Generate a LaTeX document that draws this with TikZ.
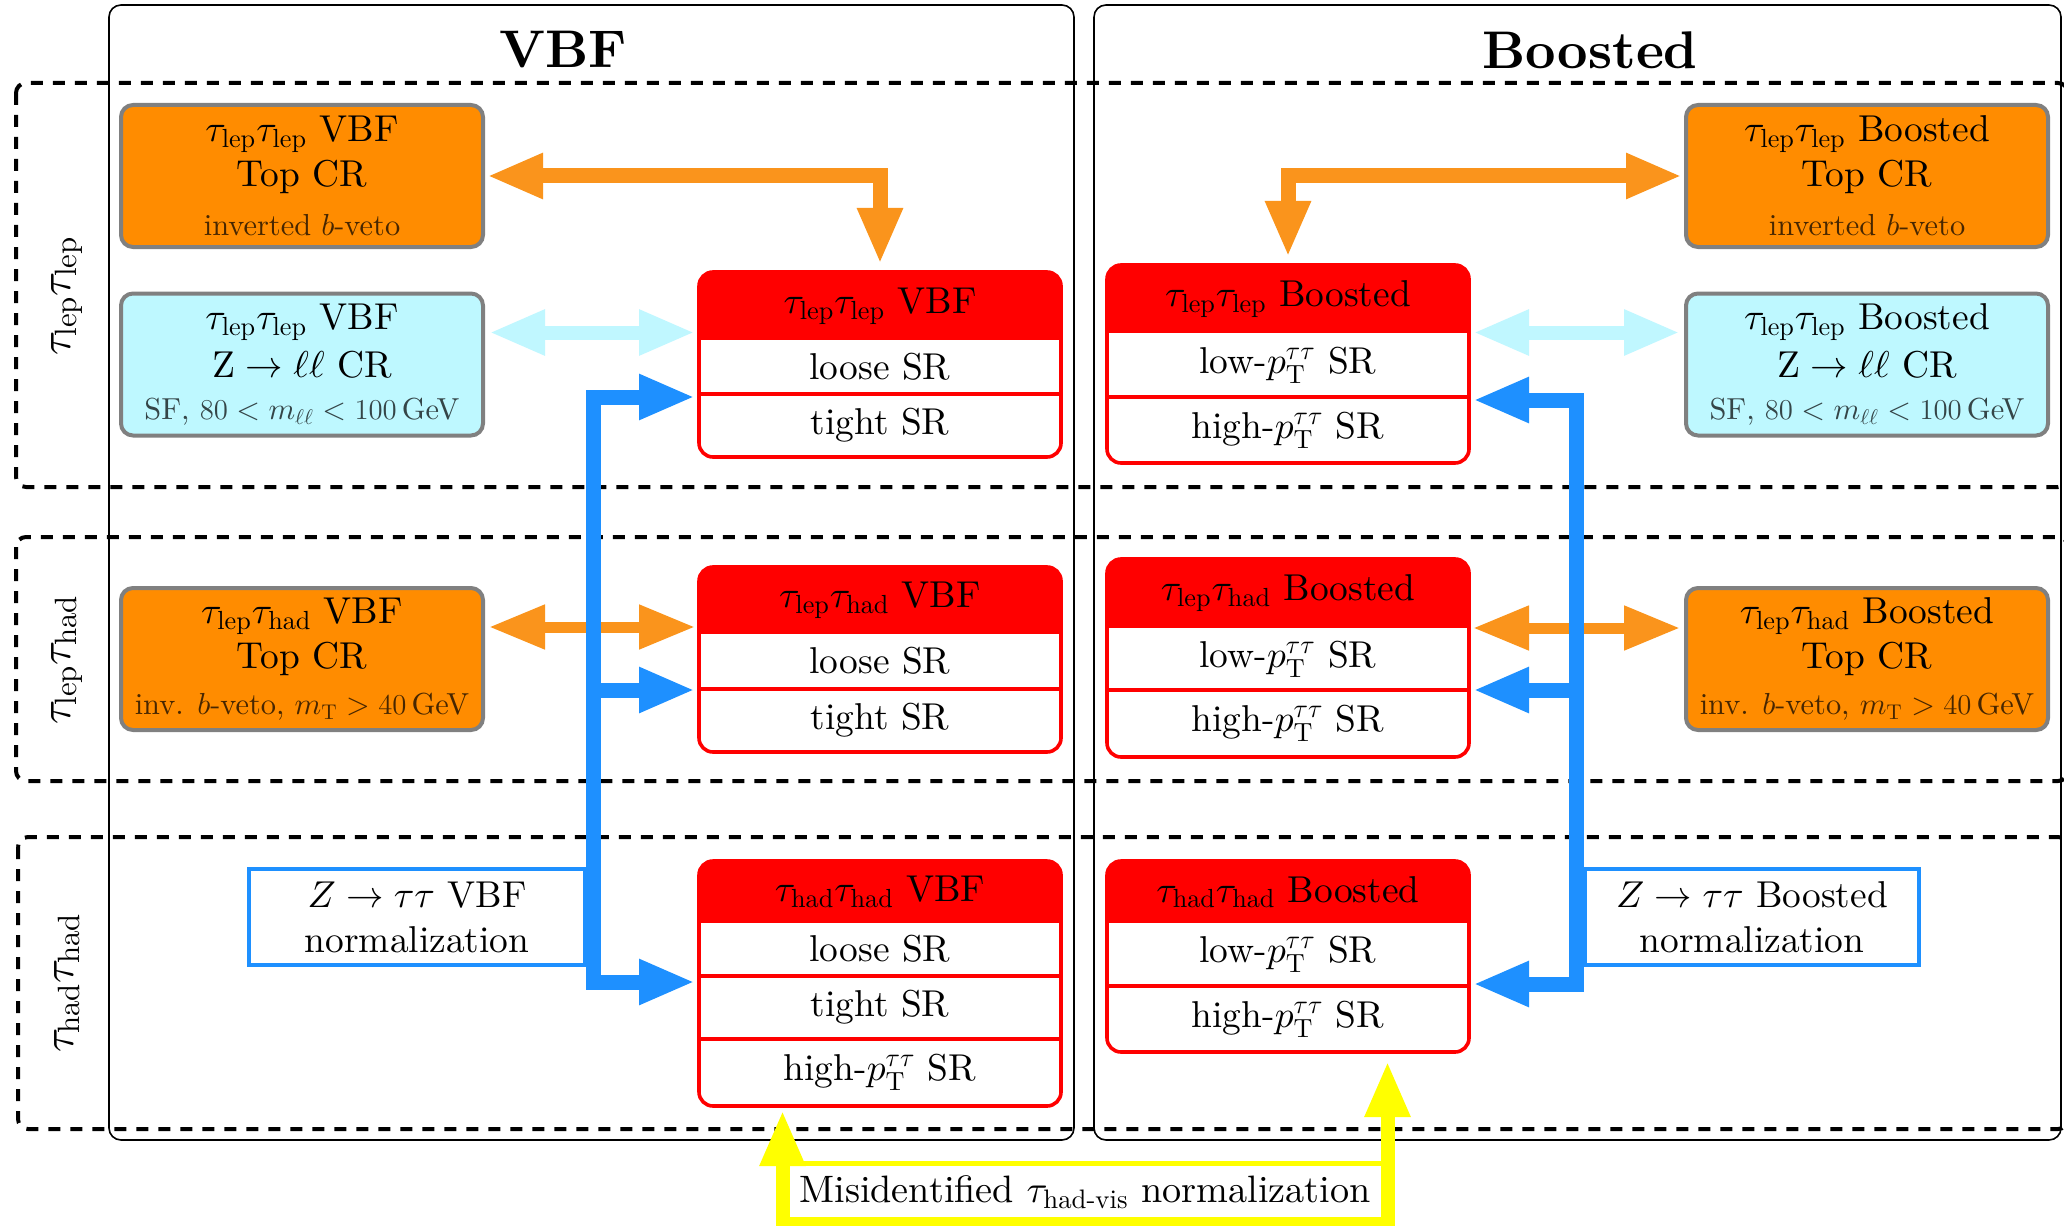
\documentclass[tikz,border=0pt]{standalone}
\usepackage{amsmath}
\usepackage{fontspec}
\setmainfont{lmroman10}[Extension=.otf, UprightFont=*-regular, BoldFont=*-bold, ItalicFont=*-italic, BoldItalicFont=*-bolditalic]
\DeclareFontShape{OML}{cmm}{m}{it}{<->cmmi10}{}
\DeclareFontShape{OMS}{cmsy}{m}{n}{<->cmsy10}{}
\usetikzlibrary{arrows.meta,calc}
\definecolor{crorange}{RGB}{255,140,0}
\definecolor{arrorange}{RGB}{250,148,28}
\definecolor{crcyan}{RGB}{190,248,255}
\definecolor{arrcyan}{RGB}{192,247,255}
\definecolor{nblue}{RGB}{30,144,255}
\definecolor{yel}{RGB}{255,255,0}
\definecolor{srred}{RGB}{255,0,0}
\definecolor{crgray}{RGB}{128,128,128}
\newcommand{\srbox}[5]{%
  \node[srnode, minimum height={(#4-#3)*0.5pt}] (#1) at (#2,#3) {};
  \begin{scope}
    \clip[rounded corners=7pt] (#1.north west) rectangle (#1.south east);
    \fill[white] (#1.north west) rectangle (#1.south east);
    \fill[srred] (#1.north west) rectangle (#1.east |- 0,#5);
  \end{scope}
}
\newcommand{\srclose}[1]{\draw[srframeline] (#1.north west) rectangle (#1.south east);}
\begin{document}
\begin{tikzpicture}[x=0.5pt,y=-0.5pt,
  panel/.style={draw=black, line width=0.8pt, rounded corners=6pt},
  rowbox/.style={draw=black, line width=2pt, dash pattern=on 6pt off 5pt, rounded corners=5pt},
  title/.style={font=\fontsize{26.5}{31}\selectfont\bfseries, inner sep=0pt},
  rowlabel/.style={rotate=90, font=\fontsize{22}{26}\selectfont, inner sep=0pt},
  crbox/.style={draw=crgray, line width=2pt, rounded corners=6pt, minimum width=181pt, minimum height=71pt, inner sep=0pt},
  topcr/.style={crbox, fill=crorange},
  zcr/.style={crbox, fill=crcyan},
  main/.style={font=\fontsize{18.7}{22}\selectfont, inner sep=0pt},
  small/.style={font=\fontsize{15.2}{18}\selectfont, text opacity=0.72, inner sep=0pt},
  srnode/.style={minimum width=181pt, inner sep=0pt, outer sep=0pt, anchor=north west, draw=none},
  srframeline/.style={draw=srred, line width=1.8pt, rounded corners=7pt},
  srline/.style={draw=srred, line width=1.8pt},
  normbox/.style={draw=nblue, line width=1.8pt, fill=white, align=center, font=\fontsize{18.7}{22.5}\selectfont, inner sep=0pt},
  misbox/.style={draw=yel, line width=2.5pt, fill=white, font=\fontsize{19.1}{22}\selectfont, minimum width=300pt, minimum height=29pt, inner sep=0pt},
  tri/.tip={Triangle[length=28pt,width=21pt]},
  barrow/.style={draw=nblue, line width=7.5pt, line join=miter, -tri},
  oarrowA/.style={draw=arrorange, line width=7.5pt, line join=miter, tri-tri},
  oarrowB/.style={draw=arrorange, line width=5.5pt, tri-tri},
  carrow/.style={draw=arrcyan, line width=7pt, tri-tri},
  yarrow/.style={draw=yel, line width=7pt, line join=miter, tri-tri}
]
\useasboundingbox (0,0) rectangle (2064,1225);
\fill[white] (0,0) rectangle (2064,1225);

% panels
\draw[panel] (109,5) rectangle (1074,1140);
\draw[panel] (1094,5) rectangle (2061,1140);
\node[title] (tV) at (563,50) {VBF};
\node[title] (tB) at (1590,50) {Boosted};

% channel rows
\draw[rowbox] (16,83) rectangle (2068,487);
\draw[rowbox] (16,537) rectangle (2068,781);
\draw[rowbox] (18,837) rectangle (2068,1129);
\node[rowlabel] (lab1) at (67,296) {$\tau_{\mathrm{lep}}\tau_{\mathrm{lep}}$};
\node[rowlabel] (lab2) at (67,660) {$\tau_{\mathrm{lep}}\tau_{\mathrm{had}}$};
\node[rowlabel] (lab3) at (67,983) {$\tau_{\mathrm{had}}\tau_{\mathrm{had}}$};

% control regions VBF
\node[topcr] (ocV1) at (302,176) {};
\node[main] (ocV1a) at (302,134) {$\tau_{\mathrm{lep}}\tau_{\mathrm{lep}}$ VBF};
\node[main] (ocV1b) at (302,177) {Top CR};
\node[small] (ocV1c) at (302,225) {inverted $b$-veto};

\node[zcr] (czV) at (302,364.5) {};
\node[main] (czVa) at (302,322) {$\tau_{\mathrm{lep}}\tau_{\mathrm{lep}}$ VBF};
\node[main] (czVb) at (302,365) {$\mathrm{Z}\rightarrow\ell\ell$ CR};
\node[small] (czVc) at (302,412) {SF, $80 < m_{\ell\ell} < 100\,$GeV};

\node[topcr] (ocV2) at (302,659) {};
\node[main] (ocV2a) at (302,616) {$\tau_{\mathrm{lep}}\tau_{\mathrm{had}}$ VBF};
\node[main] (ocV2b) at (302,659) {Top CR};
\node[small] (ocV2c) at (302,707) {inv. $b$-veto, $m_{\mathrm{T}} > 40\,$GeV};

% control regions Boosted
\node[topcr] (ocB1) at (1867,176) {};
\node[main] (ocB1a) at (1867,134) {$\tau_{\mathrm{lep}}\tau_{\mathrm{lep}}$ Boosted};
\node[main] (ocB1b) at (1867,177) {Top CR};
\node[small] (ocB1c) at (1867,225) {inverted $b$-veto};

\node[zcr] (czB) at (1867,364.5) {};
\node[main] (czBa) at (1867,322) {$\tau_{\mathrm{lep}}\tau_{\mathrm{lep}}$ Boosted};
\node[main] (czBb) at (1867,365) {$\mathrm{Z}\rightarrow\ell\ell$ CR};
\node[small] (czBc) at (1867,412) {SF, $80 < m_{\ell\ell} < 100\,$GeV};

\node[topcr] (ocB2) at (1867,659) {};
\node[main] (ocB2a) at (1867,616) {$\tau_{\mathrm{lep}}\tau_{\mathrm{had}}$ Boosted};
\node[main] (ocB2b) at (1867,659) {Top CR};
\node[small] (ocB2c) at (1867,707) {inv. $b$-veto, $m_{\mathrm{T}} > 40\,$GeV};

% signal regions VBF
\srbox{A}{699}{272}{457}{340}
\draw[srline] (A.west |- 0,394) -- (A.east |- 0,394);
\srclose{A}
\node[main] (A0) at (880,306) {$\tau_{\mathrm{lep}}\tau_{\mathrm{lep}}$ VBF};
\node[main] (A1) at (880,367) {loose SR};
\node[main] (A2) at (880,425) {tight SR};

\srbox{B}{699}{567}{752}{634}
\draw[srline] (B.west |- 0,689) -- (B.east |- 0,689);
\srclose{B}
\node[main] (B0) at (880,600) {$\tau_{\mathrm{lep}}\tau_{\mathrm{had}}$ VBF};
\node[main] (B1) at (880,661) {loose SR};
\node[main] (B2) at (880,720) {tight SR};

\srbox{C}{699}{861}{1106}{923}
\draw[srline] (C.west |- 0,976) -- (C.east |- 0,976);
\draw[srline] (C.west |- 0,1039) -- (C.east |- 0,1039);
\srclose{C}
\node[main] (C0) at (880,892) {$\tau_{\mathrm{had}}\tau_{\mathrm{had}}$ VBF};
\node[main] (C1) at (880,949) {loose SR};
\node[main] (C2) at (880,1007) {tight SR};
\node[main] (C3) at (880,1072) {high-$p_{\mathrm{T}}^{\tau\tau}$ SR};

% signal regions Boosted
\srbox{D}{1107}{265}{463}{333}
\draw[srline] (D.west |- 0,397) -- (D.east |- 0,397);
\srclose{D}
\node[main] (D0) at (1288,299) {$\tau_{\mathrm{lep}}\tau_{\mathrm{lep}}$ Boosted};
\node[main] (D1) at (1288,365) {low-$p_{\mathrm{T}}^{\tau\tau}$ SR};
\node[main] (D2) at (1288,430) {high-$p_{\mathrm{T}}^{\tau\tau}$ SR};

\srbox{E}{1107}{559}{757}{628}
\draw[srline] (E.west |- 0,690) -- (E.east |- 0,690);
\srclose{E}
\node[main] (E0) at (1288,593) {$\tau_{\mathrm{lep}}\tau_{\mathrm{had}}$ Boosted};
\node[main] (E1) at (1288,659) {low-$p_{\mathrm{T}}^{\tau\tau}$ SR};
\node[main] (E2) at (1288,723) {high-$p_{\mathrm{T}}^{\tau\tau}$ SR};

\srbox{F}{1107}{861}{1052}{923}
\draw[srline] (F.west |- 0,986) -- (F.east |- 0,986);
\srclose{F}
\node[main] (F0) at (1288,892) {$\tau_{\mathrm{had}}\tau_{\mathrm{had}}$ Boosted};
\node[main] (F1) at (1288,954) {low-$p_{\mathrm{T}}^{\tau\tau}$ SR};
\node[main] (F2) at (1288,1019) {high-$p_{\mathrm{T}}^{\tau\tau}$ SR};

% normalization boxes
\node[normbox, minimum width=168pt, minimum height=48pt] (nV) at (417,917) {$Z\rightarrow\tau\tau$ VBF\\normalization};
\node[normbox, minimum width=167pt, minimum height=48pt] (nB) at (1752,917) {$Z\rightarrow\tau\tau$ Boosted\\normalization};
\node[misbox] (mis) at (1085,1192) {Misidentified $\tau_{\text{had-vis}}$ normalization};

% orange and cyan arrows
\draw[oarrowA, shorten <=1pt, shorten >=4pt] (ocV1.east) -| (A.north);
\draw[oarrowA, shorten <=4pt, shorten >=1pt] (D.north) |- (ocB1.west);
\coordinate (c1) at ($(czV.east)+(0,-32)$);
\draw[carrow, shorten <=2pt, shorten >=2pt] (c1) -- (c1 -| A.west);
\coordinate (c2) at ($(czB.west)+(0,-32)$);
\draw[carrow, shorten <=2pt, shorten >=2pt] (c2 -| D.east) -- (c2);
\coordinate (o2) at ($(ocV2.east)+(0,-32)$);
\draw[oarrowB, shorten <=2pt, shorten >=2pt] (o2) -- (o2 -| B.west);
\coordinate (o3) at ($(ocB2.west)+(0,-31)$);
\draw[oarrowB, shorten <=2pt, shorten >=2pt] (o3 -| E.east) -- (o3);

% blue normalization arrows
\coordinate (bjV) at ($(nV.east)+(7,0)$);
\draw[barrow, shorten >=2pt] (bjV) |- (A.west |- 0,397);
\draw[barrow, shorten >=2pt] (bjV) |- (B.west |- 0,690);
\draw[barrow, shorten >=2pt] (bjV) |- (C.west |- 0,982);
\coordinate (bjB) at ($(nB.west)+(-7,0)$);
\draw[barrow, shorten >=2pt] (bjB) |- (D.east |- 0,400);
\draw[barrow, shorten >=2pt] (bjB) |- (E.east |- 0,690);
\draw[barrow, shorten >=2pt] (bjB) |- (F.east |- 0,984);

% yellow misidentification arrows
\draw[yarrow] ($(mis.west |- C.south)+(0,4)$) |- (mis.south) -| ($(mis.east |- F.south)+(0,9)$);
\end{tikzpicture}
\end{document}
